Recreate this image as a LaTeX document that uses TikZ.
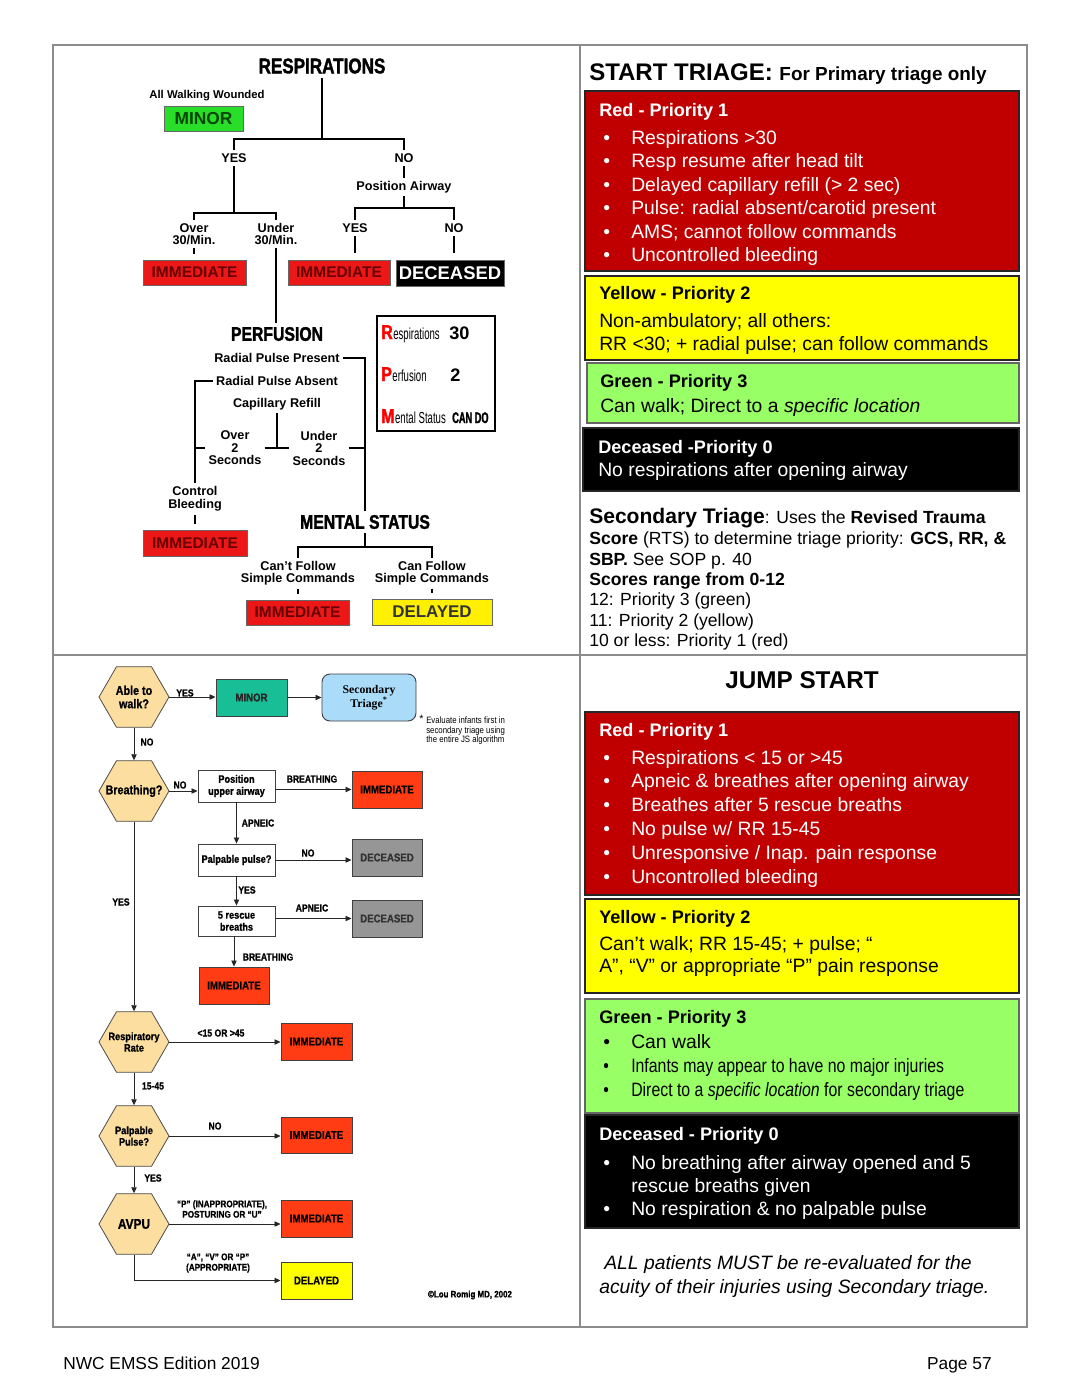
\documentclass[tikz,border=0pt]{standalone}
\usepackage{fontspec}
\usepackage{graphicx}
\setmainfont{Liberation Sans}
\newfontfamily\cndb[FakeStretch=0.8,FakeBold=1.6]{Liberation Sans Bold}
\newfontfamily\cndx[FakeStretch=0.6]{Liberation Sans}
\newfontfamily\cndxb[FakeStretch=0.6,FakeBold=1.6]{Liberation Sans Bold}
\newfontfamily\jsf[FakeStretch=0.85]{Liberation Sans}
\newfontfamily\jsb[FakeStretch=0.85,FakeBold=1]{Liberation Sans Bold}
\newfontfamily\narr[FakeStretch=0.82]{Liberation Sans}
\newfontfamily\narri[FakeStretch=0.82]{Liberation Sans Italic}
\newfontfamily\serifb{Liberation Serif Bold}
\usetikzlibrary{arrows.meta,shapes.geometric}
\definecolor{stred}{RGB}{236,24,24}
\definecolor{immtxt}{RGB}{105,0,0}
\definecolor{stgreen}{RGB}{40,222,40}
\definecolor{mintxt}{RGB}{0,70,0}
\definecolor{styel}{RGB}{255,240,0}
\definecolor{pred}{RGB}{192,0,0}
\definecolor{pyel}{RGB}{255,255,0}
\definecolor{pgreen}{RGB}{153,255,102}
\definecolor{hexf}{RGB}{252,222,160}
\definecolor{tealb}{RGB}{24,190,150}
\definecolor{jsred}{RGB}{255,60,20}
\definecolor{jsgray}{RGB}{150,150,150}
\definecolor{ltblue}{RGB}{170,220,250}
\definecolor{framec}{RGB}{140,140,140}
\newcommand\bx[7]{\node[#6, minimum width={(#4-#2)*0.75pt}, minimum height={(#5-#3)*0.75pt}] (#1) at ({(#2+#4)/2},{(#3+#5)/2}) {#7};}
\newcommand\tx[5]{\node[anchor=base west,inner sep=0pt,#4] (#1) at (#2,#3) {#5};}
\newcommand\bul[4]{\node[anchor=base west,inner sep=0pt,#3] (#1b) at (603,#2) {\textbullet};\node[anchor=base west,inner sep=0pt,#3] (#1) at (631,#2) {#4};}
\begin{document}
\begin{tikzpicture}[x=0.75pt,y=-0.75pt,
  lab/.style={font=\bfseries\fontsize{9.5}{9.4}\selectfont, align=center, inner sep=1pt, outer sep=1.5pt},
  hd/.style={font=\cndb\fontsize{14.8}{15}\selectfont, inner sep=1pt, outer sep=2pt},
  tl/.style={line width=1.3pt, draw=black},
  stb/.style={draw=black!60, line width=0.5pt, inner sep=0pt, font=\bfseries\fontsize{11.6}{12}\selectfont},
  pbox/.style={draw=black!85, line width=0.9pt, inner sep=0pt},
  bodyw/.style={font=\fontsize{14.5}{17}\selectfont, text=white},
  bodyk/.style={font=\fontsize{14.5}{17}\selectfont, text=black},
  ttlw/.style={font=\bfseries\fontsize{13.6}{16}\selectfont, text=white},
  ttlk/.style={font=\bfseries\fontsize{13.6}{16}\selectfont, text=black},
  sec/.style={font=\fontsize{13.2}{15}\selectfont},
  hexa/.style={regular polygon, regular polygon sides=6, minimum size=52.5pt, inner sep=0pt, draw=black!70, fill=hexf, line width=0.6pt},
  hext/.style={inner sep=0pt, align=center, font=\jsb\fontsize{8.1}{8.6}\selectfont},
  jsbox/.style={draw=black!75, line width=0.7pt, inner sep=0pt, align=center, font=\jsb\fontsize{8.1}{9}\selectfont},
  jsout/.style={jsbox, font=\jsb\fontsize{8.5}{9}\selectfont},
  jl/.style={font=\jsb\fontsize{7.6}{7.8}\selectfont, inner sep=0.5pt, align=center},
  arr/.style={-{Triangle[length=4.5pt,width=4pt]}, line width=0.6pt, draw=black!85}
]
\useasboundingbox (0,0) rectangle (1080,1397);
\fill[white] (0,0) rectangle (1080,1397);
% frame
\draw[framec, line width=0.8pt] (53,45) rectangle (1027,1327);
\draw[framec, line width=0.8pt] (580,45) -- (580,1327);
\draw[framec, line width=0.8pt] (53,655) -- (1027,655);

% ================= START flowchart (top left) =================
\node[hd, font=\cndb\fontsize{16}{16}\selectfont] (resp) at (322,66) {RESPIRATIONS};
\node[lab, font=\bfseries\fontsize{8.5}{9}\selectfont] (walk) at (207,96) {All Walking Wounded};
\bx{minA}{164}{106}{243}{131}{stb, fill=stgreen, text=mintxt, font=\bfseries\fontsize{13}{13}\selectfont}{MINOR}
\node[lab] (yes1) at (234,158) {YES};
\node[lab] (no1) at (404,158) {NO};
\node[lab] (posair) at (404,187) {Position Airway};
\node[lab] (over1) at (194,234) {Over\\30/Min.};
\node[lab] (under1) at (276,234) {Under\\30/Min.};
\node[lab] (yes2) at (355,228) {YES};
\node[lab] (no2) at (454,228) {NO};
\bx{imm1}{143}{260}{246}{285}{stb, fill=stred, text=immtxt}{IMMEDIATE}
\bx{imm2}{288}{260}{390}{285}{stb, fill=stred, text=immtxt}{IMMEDIATE}
\bx{dec1}{396}{260}{504}{286}{stb, fill=black, text=white, font=\bfseries\fontsize{13.8}{14}\selectfont}{DECEASED}
\coordinate (j1) at (322,139);
\coordinate (j2) at (234,213);
\coordinate (j3) at (404,208);
\draw[tl] (resp) -- (j1);
\draw[tl] (yes1.north) |- (j1) -| (no1.north);
\draw[tl] (yes1.south) -- (j2);
\draw[tl] (over1.north) |- (j2) -| (under1.north);
\draw[tl, shorten >=4pt] (over1.south) -- (over1.south |- imm1.north);
\draw[tl] (no1.south) -- (posair.north);
\draw[tl] (posair.south) -- (j3);
\draw[tl] (yes2.north) |- (j3) -| (no2.north);
\draw[tl, shorten >=5pt] (yes2.south) -- (yes2.south |- imm2.north);
\draw[tl, shorten >=5pt] (no2.south) -- (no2.south |- dec1.north);

\node[hd] (perf) at (277,334) {PERFUSION};
\node[lab] (rpp) at (277,358) {Radial Pulse Present};
\node[lab] (rpa) at (277,381) {Radial Pulse Absent};
\node[lab] (capr) at (277,404) {Capillary Refill};
\node[lab] (over2) at (235,448) {Over\\2\\Seconds};
\node[lab] (under2) at (319,448) {Under\\2\\Seconds};
\node[lab] (ctrl) at (195,499) {Control\\Bleeding};
\bx{imm3}{143}{530}{247}{556}{stb, fill=stred, text=immtxt}{IMMEDIATE}
\node[hd] (ment) at (365,522) {MENTAL STATUS};
\node[lab] (cant) at (298,573) {Can't Follow\\Simple Commands};
\node[lab] (canf) at (432,573) {Can Follow\\Simple Commands};
\bx{imm4}{246}{600}{349}{625}{stb, fill=stred, text=immtxt}{IMMEDIATE}
\bx{del1}{372}{599}{492}{625}{stb, fill=styel, text=black!80, font=\bfseries\fontsize{12.7}{13}\selectfont}{DELAYED}
\coordinate (j5) at (365,547);
\draw[tl] (under1.south) -- (under1.south |- perf.north);
\draw[tl] (rpp.east) -| (ment.north);
\draw[tl] (rpa.west) -| (ctrl.north);
\draw[tl] (capr.south) -- (capr.south |- over2.east);
\draw[tl] (over2.east) -- (under2.west);
\draw[tl] (over2.west) -- (over2.west -| ctrl.north);
\draw[tl] (under2.east) -- (under2.east -| ment.north);
\draw[tl, shorten >=4pt] (ctrl.south) -- (ctrl.south |- imm3.north);
\draw[tl] (ment.south) -- (j5);
\draw[tl] (cant.north) |- (j5) -| (canf.north);
\draw[tl, shorten >=4pt] (cant.south) -- (cant.south |- imm4.north);
\draw[tl, shorten >=4pt] (canf.south) -- (canf.south |- del1.north);

% RPM box
\bx{rpm}{377}{316}{495}{431}{draw=black, line width=1.2pt, fill=white, inner sep=0pt}{}
\tx{rR}{381}{339}{text=red, font=\cndb\fontsize{15}{15}\selectfont}{R}
\node[anchor=base west, inner sep=0pt, font=\cndx\fontsize{12}{12}\selectfont] (rE) at (rR.base east) {espirations};
\tx{r30}{449}{339}{font=\bfseries\fontsize{13.6}{14}\selectfont}{30}
\tx{pP}{381}{381}{text=red, font=\cndb\fontsize{15}{15}\selectfont}{P}
\node[anchor=base west, inner sep=0pt, font=\cndx\fontsize{12}{12}\selectfont] (pE) at (pP.base east) {erfusion};
\tx{p2}{450}{381}{font=\bfseries\fontsize{13.6}{14}\selectfont}{2}
\tx{mM}{381}{423}{text=red, font=\cndb\fontsize{15}{15}\selectfont}{M}
\node[anchor=base west, inner sep=0pt, font=\cndx\fontsize{12}{12}\selectfont] (mE) at (mM.base east) {ental Status};
\tx{mC}{452}{423}{font=\cndxb\fontsize{11.5}{11}\selectfont}{CAN DO}

% ================= JumpSTART flowchart (bottom left) =================
\node[hexa] (h1) at (134,697) {};
\node[hext, font=\jsb\fontsize{9.5}{10}\selectfont] (h1t) at (h1) {Able to\\walk?};
\bx{minB}{216}{679}{287}{716}{jsout, fill=tealb, text=black!85}{MINOR}
\bx{secT}{322}{674}{416}{721}{draw=black!75, line width=0.7pt, fill=ltblue, rounded corners=6pt, inner sep=0pt, align=center, font=\serifb\fontsize{8.8}{10.5}\selectfont}{Secondary\\Triage\textsuperscript{*}}
\node[anchor=north west, inner sep=0pt, font=\fontsize{8}{8}\selectfont] (ast) at (419,715) {*};
\node[anchor=north west, inner sep=0pt, align=left, font=\jsf\fontsize{6.9}{7.1}\selectfont] (note) at (426,717) {Evaluate infants first in\\secondary triage using\\the entire JS algorithm};
\node[hexa] (h2) at (134,791) {};
\node[hext, font=\jsb\fontsize{9.5}{10}\selectfont] (h2t) at (h2) {Breathing?};
\bx{pos}{198}{770}{275}{802}{jsbox, fill=white}{Position\\upper airway}
\bx{immB1}{352}{771}{422}{808}{jsout, fill=jsred}{IMMEDIATE}
\bx{palp}{198}{844}{275}{876}{jsbox, fill=white}{Palpable pulse?}
\bx{decB1}{352}{839}{422}{876}{jsout, fill=jsgray, text=black!80}{DECEASED}
\bx{resc}{198}{906}{275}{936}{jsbox, fill=white}{5 rescue\\breaths}
\bx{decB2}{352}{900}{422}{937}{jsout, fill=jsgray, text=black!80}{DECEASED}
\bx{immB2}{199}{967}{269}{1004}{jsout, fill=jsred}{IMMEDIATE}
\node[hexa] (h3) at (134,1042) {};
\node[hext] (h3t) at (h3) {Respiratory\\Rate};
\bx{immB3}{281}{1023}{352}{1060}{jsout, fill=jsred}{IMMEDIATE}
\node[hexa] (h4) at (134,1136) {};
\node[hext] (h4t) at (h4) {Palpable\\Pulse?};
\bx{immB4}{281}{1117}{352}{1153}{jsout, fill=jsred}{IMMEDIATE}
\node[hexa] (h5) at (134,1224) {};
\node[hext, font=\jsb\fontsize{10.5}{11}\selectfont] (h5t) at (h5) {AVPU};
\bx{immB5}{281}{1200}{352}{1237}{jsout, fill=jsred}{IMMEDIATE}
\bx{delB}{281}{1262}{352}{1299}{jsout, fill=pyel}{DELAYED}
\node[jl, font=\jsb\fontsize{7}{7}\selectfont] (copy) at (470,1295) {\textcopyright Lou Romig MD, 2002};

% labels
\node[jl] (lyes1) at (185,693) {YES};
\node[jl] (lno1) at (147,742) {NO};
\node[jl] (lno2) at (180,785) {NO};
\node[jl] (lbr1) at (312,779) {BREATHING};
\node[jl] (lap1) at (258,823) {APNEIC};
\node[jl] (lno3) at (308,853) {NO};
\node[jl] (lyes2) at (247,890) {YES};
\node[jl] (lap2) at (312,908) {APNEIC};
\node[jl] (lbr2) at (268,957) {BREATHING};
\node[jl] (lyes3) at (121,902) {YES};
\node[jl] (lrr) at (221,1033) {<15 OR >45};
\node[jl] (l1545) at (153,1086) {15-45};
\node[jl] (lno4) at (215,1126) {NO};
\node[jl] (lyes4) at (153,1178) {YES};
\node[jl, font=\jsb\fontsize{7.2}{7.8}\selectfont] (lp) at (222,1209) {“P” (INAPPROPRIATE),\\POSTURING OR “U”};
\node[jl, font=\jsb\fontsize{7.2}{7.8}\selectfont] (lavp) at (218,1263) {“A”, “V” OR “P”\\(APPROPRIATE)};

% arrows
\draw[arr] (h1.east) -- (h1.east -| minB.west);
\draw[arr] (minB.east) -- (minB.east -| secT.west);
\draw[arr] (h1.south) -- (h2.north);
\draw[arr] (h2.east) -- (h2.east -| pos.west);
\draw[arr] (pos.east |- immB1.west) -- (immB1.west);
\draw[arr] (pos.south) -- (palp.north);
\draw[arr] (palp.east) -- (palp.east -| decB1.west);
\draw[arr] (palp.south) -- (resc.north);
\draw[arr] (resc.east |- decB2.west) -- (decB2.west);
\draw[arr] (resc.south -| immB2.north) -- (immB2.north);
\draw[arr] (h2.south) -- (h3.north);
\draw[arr] (h3.east) -- (h3.east -| immB3.west);
\draw[arr] (h3.south) -- (h4.north);
\draw[arr] (h4.east) -- (h4.east -| immB4.west);
\draw[arr] (h4.south) -- (h5.north);
\draw[arr] (h5.east) -- (h5.east -| immB5.west);
\draw[arr] (h5.south) |- (delB.west);

% ================= START TRIAGE text (top right) =================
\tx{sttl}{589}{80}{font=\bfseries\fontsize{18}{20}\selectfont}{START TRIAGE: {\fontsize{14.2}{16}\selectfont For Primary triage only}}
\bx{sred}{585}{91}{1019}{271}{pbox, fill=pred}{}
\tx{srt}{599}{116}{ttlw}{Red - Priority 1}
\bul{sr1}{144}{bodyw}{Respirations >30}
\bul{sr2}{167.5}{bodyw}{Resp resume after head tilt}
\bul{sr3}{191}{bodyw}{Delayed capillary refill (> 2 sec)}
\bul{sr4}{214.5}{bodyw}{Pulse: radial absent/carotid present}
\bul{sr5}{238}{bodyw}{AMS; cannot follow commands}
\bul{sr6}{261.5}{bodyw}{Uncontrolled bleeding}
\bx{syel}{585}{276}{1019}{360}{pbox, fill=pyel}{}
\tx{syt}{599}{299}{ttlk}{Yellow - Priority 2}
\tx{sy1}{599}{327}{bodyk}{Non-ambulatory; all others:}
\tx{sy2}{599}{350}{bodyk}{RR <30; + radial pulse; can follow commands}
\bx{sgrn}{587}{363}{1019}{423}{pbox, draw=black!60, fill=pgreen}{}
\tx{sgt}{600}{387}{ttlk}{Green - Priority 3}
\tx{sg1}{600}{412}{bodyk}{Can walk; Direct to a \textit{specific location}}
\bx{sblk}{583}{428}{1019}{491}{pbox, fill=black}{}
\tx{sbt}{598}{453}{ttlw}{Deceased -Priority 0}
\tx{sb1}{598}{476}{bodyw}{No respirations after opening airway}

\tx{st1}{589}{523}{sec}{{\bfseries\fontsize{15.8}{17}\selectfont Secondary Triage}: Uses the \textbf{Revised Trauma}}
\tx{st2}{589}{544}{sec}{\textbf{Score} (RTS) to determine triage priority: \textbf{GCS, RR, \&}}
\tx{st3}{589}{565}{sec}{\textbf{SBP.} See SOP p. 40}
\tx{st4}{589}{585}{sec}{\textbf{Scores range from 0-12}}
\tx{st5}{589}{605}{sec}{12: Priority 3 (green)}
\tx{st6}{589}{626}{sec}{11: Priority 2 (yellow)}
\tx{st7}{589}{646}{sec}{10 or less: Priority 1 (red)}

% ================= JUMP START text (bottom right) =================
\node[anchor=base, inner sep=0pt, font=\bfseries\fontsize{18.2}{20}\selectfont] (jttl) at (802,688) {JUMP START};
\bx{jred}{585}{712}{1019}{895}{pbox, fill=pred}{}
\tx{jrt}{599}{736}{ttlw}{Red - Priority 1}
\bul{jr1}{764}{bodyw}{Respirations < 15 or >45}
\bul{jr2}{787}{bodyw}{Apneic \& breathes after opening airway}
\bul{jr3}{811}{bodyw}{Breathes after 5 rescue breaths}
\bul{jr4}{835}{bodyw}{No pulse w/ RR 15-45}
\bul{jr5}{859}{bodyw}{Unresponsive / Inap. pain response}
\bul{jr6}{883}{bodyw}{Uncontrolled bleeding}
\bx{jyel}{585}{899}{1019}{993}{pbox, fill=pyel}{}
\tx{jyt}{599}{923}{ttlk}{Yellow - Priority 2}
\tx{jy1}{599}{950}{bodyk}{Can’t walk; RR 15-45; + pulse; “}
\tx{jy2}{599}{972}{bodyk}{A”, “V” or appropriate “P” pain response}
\bx{jgrn}{585}{999}{1019}{1113}{pbox, draw=black!60, fill=pgreen}{}
\tx{jgt}{599}{1023}{ttlk}{Green - Priority 3}
\bul{jg1}{1048}{bodyk}{Can walk}
\bul{jg2}{1072}{bodyk, font=\narr\fontsize{14.5}{17}\selectfont}{Infants may appear to have no major injuries}
\bul{jg3}{1096}{bodyk, font=\narr\fontsize{14.5}{17}\selectfont}{Direct to a {\narri specific location} for secondary triage}
\bx{jblk}{585}{1115}{1019}{1228}{pbox, fill=black}{}
\tx{jbt}{599}{1140}{ttlw}{Deceased - Priority 0}
\bul{jb1}{1169}{bodyw}{No breathing after airway opened and 5}
\tx{jb1c}{631}{1192}{bodyw}{rescue breaths given}
\bul{jb2}{1215}{bodyw}{No respiration \& no palpable pulse}
\tx{fn1}{604}{1269}{font=\itshape\fontsize{14.5}{17}\selectfont}{ALL patients MUST be re-evaluated for the}
\tx{fn2}{599}{1293}{font=\itshape\fontsize{14.5}{17}\selectfont}{acuity of their injuries using Secondary triage.}

% footer
\tx{foot1}{63}{1369}{font=\fontsize{13}{15}\selectfont}{NWC EMSS Edition 2019}
\node[anchor=base east, inner sep=0pt, font=\fontsize{13}{15}\selectfont] (foot2) at (992,1369) {Page 57};
\end{tikzpicture}
\end{document}
